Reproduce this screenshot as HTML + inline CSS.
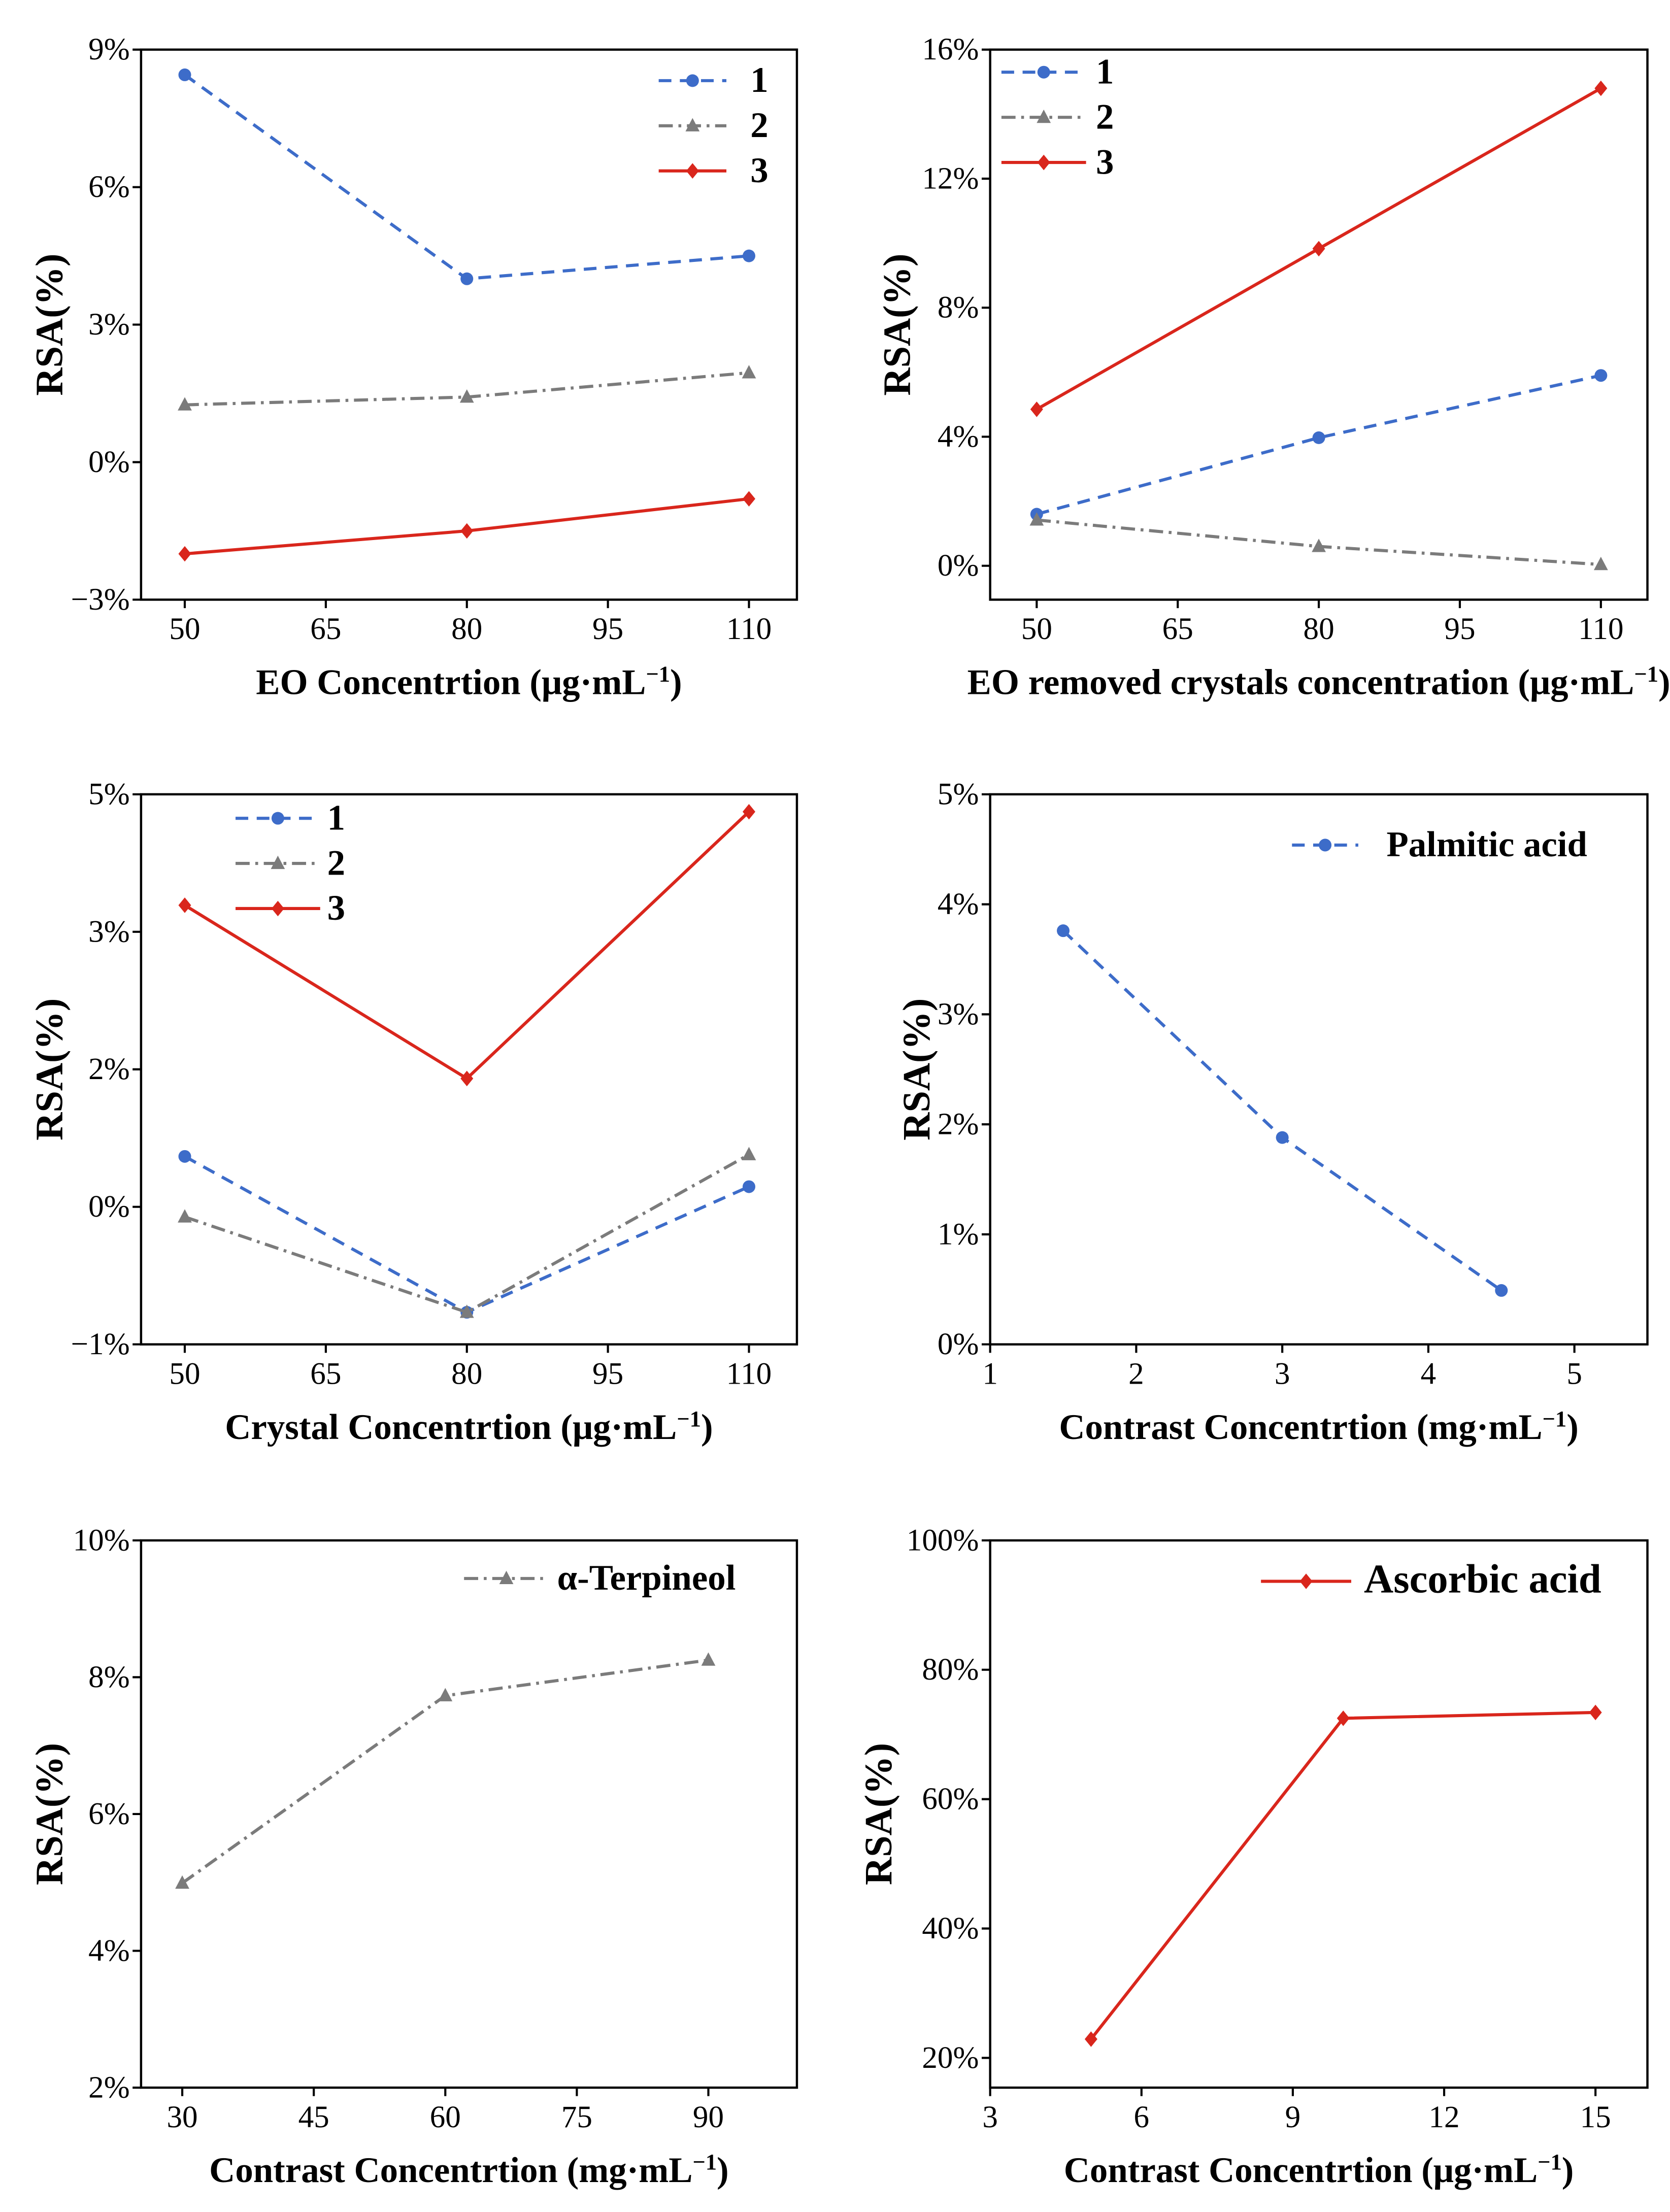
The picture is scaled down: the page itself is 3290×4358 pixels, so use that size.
<!DOCTYPE html>
<html><head><meta charset="utf-8"><style>html,body{margin:0;padding:0;background:#fff}svg{display:block}text{font-family:"Liberation Serif",serif}</style></head>
<body>
<svg id="fig" width="3290" height="4358" viewBox="0 0 1184 1568" xmlns="http://www.w3.org/2000/svg"></svg>
<script>
// Panel 1
const p1Cats=[50,80,110];
const p1S1=[8.45,4.0,4.5];
const p1S2=[1.25,1.42,1.95];
const p1S3=[-2.0,-1.5,-0.8];
const p1Y=[-3,0,3,6,9];
const p1YL=["−3%","0%","3%","6%","9%"];
const p1X=[50,65,80,95,110];
// Panel 2
const p2Cats=[50,80,110];
const p2S1=[1.6,3.97,5.9];
const p2S2=[1.42,0.6,0.04];
const p2S3=[4.85,9.83,14.8];
const p2Y=[0,4,8,12,16];
const p2YL=["0%","4%","8%","12%","16%"];
const p2X=[50,65,80,95,110];
// Panel 3
const p3Cats=[50,80,110];
const p3S1=[0.55,-1.15,0.22];
const p3S2=[-0.11,-1.15,0.57];
const p3S3=[3.29,1.4,4.31];
const p3Y=[-1.5,0,1.5,3,4.5];
const p3YL=["−1%","0%","2%","3%","5%"];
const p3X=[50,65,80,95,110];
// Panel 4
const p4Cats=[1.5,3,4.5];
const p4S1=[3.76,1.88,0.49];
const p4Y=[0,1,2,3,4,5];
const p4YL=["0%","1%","2%","3%","4%","5%"];
const p4X=[1,2,3,4,5];
// Panel 5
const p5Cats=[30,60,90];
const p5S1=[4.99,7.73,8.25];
const p5Y=[2,4,6,8,10];
const p5YL=["2%","4%","6%","8%","10%"];
const p5X=[30,45,60,75,90];
// Panel 6
const p6Cats=[5,10,15];
const p6S1=[22.9,72.5,73.4];
const p6Y=[20,40,60,80,100];
const p6YL=["20%","40%","60%","80%","100%"];
const p6X=[3,6,9,12,15];

const svg=document.getElementById('fig');
const NS='http://www.w3.org/2000/svg';
function mk(tag,attrs,parent){const e=document.createElementNS(NS,tag);for(const k in attrs)e.setAttribute(k,attrs[k]);(parent||svg).appendChild(e);return e;}
const STY={
 blue:{c:'#3D6CC9',dash:'9,6',m:'circle'},
 gray:{c:'#7B7B7B',dash:'10,4,2,4',m:'tri'},
 red:{c:'#D9261C',dash:'',m:'diamond'}
};
function marker(g,st,x,y,name){
 let e;
 if(st.m==='circle')e=mk('circle',{cx:x,cy:y,r:4.5,fill:st.c},g);
 else if(st.m==='tri')e=mk('polygon',{points:`${x},${y-5.5} ${x-5},${y+4} ${x+5},${y+4}`,fill:st.c},g);
 else e=mk('polygon',{points:`${x},${y-5.5} ${x+4.5},${y} ${x},${y+5.5} ${x-4.5},${y}`,fill:st.c},g);
 
 
}
function panel(o){
 const g=mk('g',{});
 
 
 const sx=v=>o.x0+(v-o.xd[0])/(o.xd[1]-o.xd[0])*(o.x1-o.x0);
 const sy=v=>o.y1-(v-o.yd[0])/(o.yd[1]-o.yd[0])*(o.y1-o.y0);
 const box=mk('rect',{x:o.x0,y:o.y0,width:o.x1-o.x0,height:o.y1-o.y0,fill:'none',stroke:'#000','stroke-width':1.6},g);
 
 
 o.yt.forEach((v,i)=>{const y=sy(v);
  mk('line',{x1:o.x0-6,x2:o.x0,y1:y,y2:y,stroke:'#000','stroke-width':1.5},g);
  const t=mk('text',{x:o.x0-8,y:y+7,'text-anchor':'end','font-size':22},g);t.textContent=o.yl[i];
  
  
 });
 o.xt.forEach(v=>{const x=sx(v);
  mk('line',{x1:x,x2:x,y1:o.y1,y2:o.y1+6,stroke:'#000','stroke-width':1.5},g);
  const t=mk('text',{x:x,y:o.y1+28,'text-anchor':'middle','font-size':22},g);t.textContent=v;
  
  
 });
 const xt=mk('text',{x:(o.x0+o.x1)/2,y:o.y1+67,'text-anchor':'middle','font-size':25.5,'font-weight':'bold'},g);
 xt.innerHTML=o.xlab;
 
 
 const cy=(o.y0+o.y1)/2, tx=o.x0+o.yoff;
 const yt=mk('text',{x:tx,y:cy+9,'text-anchor':'middle','font-size':27.5,'font-weight':'bold',transform:`rotate(-90 ${tx} ${cy})`},g);
 yt.textContent='RSA(%)';
 
 
 o.series.forEach((s,si)=>{const st=STY[s.st];
  const pts=s.v.map((v,i)=>sx(o.cats[i])+','+sy(v)).join(' ');
  const pl=mk('polyline',{points:pts,fill:'none',stroke:st.c,'stroke-width':2.2,'stroke-dasharray':st.dash},g);
  
  
  s.v.forEach((v,i)=>marker(g,st,sx(o.cats[i]),sy(v),'data-point'));
  const L=o.leg, ly=L.y+si*32;
  const ll=mk('line',{x1:L.x1,x2:L.x2,y1:ly,y2:ly,stroke:st.c,'stroke-width':2.2,'stroke-dasharray':st.dash},g);
  
  
  marker(g,st,(L.x1+L.x2)/2,ly,'legend-marker');
  const lt=mk('text',{x:L.tx,y:ly+8,'font-size':L.fs||25.5,'font-weight':'bold'},g);lt.textContent=s.label;
  
  
 });
}
const sup='(μg·mL<tspan dy="-9" font-size="16">−1</tspan><tspan dy="9">)</tspan>';
const supm='(mg·mL<tspan dy="-9" font-size="16">−1</tspan><tspan dy="9">)</tspan>';
panel({name:'panel-eo',x0:100,x1:565,y0:35,y1:425,xd:[45.35,115.1],yd:[-3,9],yt:p1Y,yl:p1YL,xt:p1X,cats:p1Cats,yoff:-65,
 xlab:'EO Concentrtion '+sup,leg:{x1:467,x2:515,y:57,tx:532},
 series:[{v:p1S1,st:'blue',label:'1'},{v:p1S2,st:'gray',label:'2'},{v:p1S3,st:'red',label:'3'}]});
panel({name:'panel-eo-removed',x0:702,x1:1168,y0:35,y1:425,xd:[45.05,114.95],yd:[-1.05,16],yt:p2Y,yl:p2YL,xt:p2X,cats:p2Cats,yoff:-66,
 xlab:'EO removed crystals concentration '+sup,leg:{x1:710,x2:770,y:51,tx:777},
 series:[{v:p2S1,st:'blue',label:'1'},{v:p2S2,st:'gray',label:'2'},{v:p2S3,st:'red',label:'3'}]});
panel({name:'panel-crystal',x0:100,x1:565,y0:563,y1:953,xd:[45.35,115.1],yd:[-1.5,4.5],yt:p3Y,yl:p3YL,xt:p3X,cats:p3Cats,yoff:-65,
 xlab:'Crystal Concentrtion '+sup,leg:{x1:167,x2:227,y:580,tx:232},
 series:[{v:p3S1,st:'blue',label:'1'},{v:p3S2,st:'gray',label:'2'},{v:p3S3,st:'red',label:'3'}]});
panel({name:'panel-palmitic',x0:702,x1:1168,y0:563,y1:953,xd:[1,5.5],yd:[0,5],yt:p4Y,yl:p4YL,xt:p4X,cats:p4Cats,yoff:-52,
 xlab:'Contrast Concentrtion '+supm,leg:{x1:916,x2:963,y:599,tx:983},
 series:[{v:p4S1,st:'blue',label:'Palmitic acid'}]});
panel({name:'panel-terpineol',x0:100,x1:565,y0:1092,y1:1480,xd:[25.3,100.1],yd:[2,10],yt:p5Y,yl:p5YL,xt:p5X,cats:p5Cats,yoff:-65,
 xlab:'Contrast Concentrtion '+supm,leg:{x1:329,x2:389,y:1119,tx:395},
 series:[{v:p5S1,st:'gray',label:'α-Terpineol'}]});
panel({name:'panel-ascorbic',x0:702,x1:1168,y0:1092,y1:1480,xd:[3,16.03],yd:[15.4,100],yt:p6Y,yl:p6YL,xt:p6X,cats:p6Cats,yoff:-79,
 xlab:'Contrast Concentrtion '+sup,leg:{x1:894,x2:958,y:1121,tx:967,fs:29},
 series:[{v:p6S1,st:'red',label:'Ascorbic acid'}]});
</script>
</body></html>
